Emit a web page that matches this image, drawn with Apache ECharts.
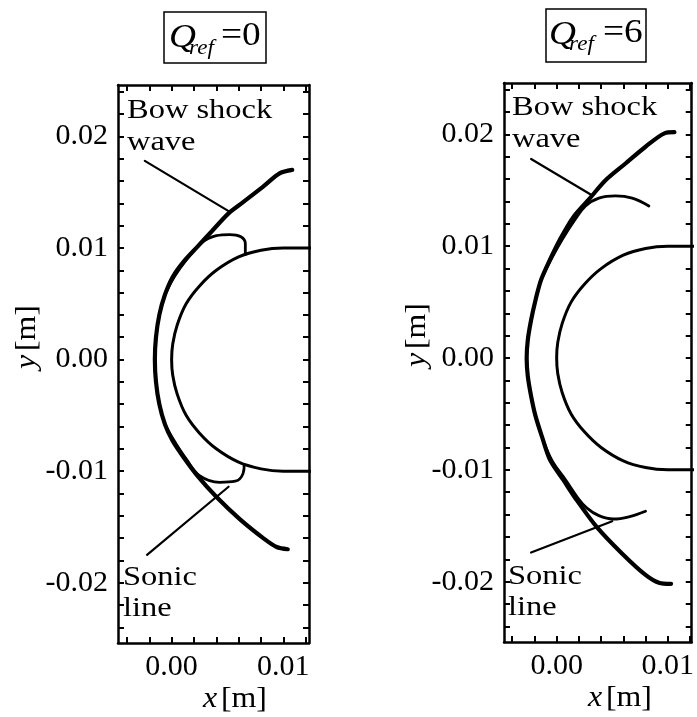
<!DOCTYPE html>
<html><head><meta charset="utf-8">
<script src="https://cdn.jsdelivr.net/npm/echarts@6/dist/echarts.min.js"></script>
<style>html,body{margin:0;padding:0;background:#fff}#c{width:697px;height:717px}</style>
</head><body><div id="c"></div>
<script>
// ---------- data ----------
const xTickValues = [-0.004,-0.002,0,0.002,0.004,0.006,0.008,0.010,0.012];
const xLabelValues = [0, 0.01];
const yTickValues = [-0.024,-0.022,-0.020,-0.018,-0.016,-0.014,-0.012,-0.010,-0.008,-0.006,-0.004,-0.002,0,0.002,0.004,0.006,0.008,0.010,0.012,0.014,0.016,0.018,0.020,0.022,0.024];
const yLabelValues = [-0.02,-0.01,0,0.01,0.02];

// body contour (same in both panels)
const bodyContour = [[0.0125,0.0100],[0.0100,0.0100],[0.0080,0.0098],[0.0060,0.0092],[0.0040,0.0080],[0.0025,0.0066],[0.0013,0.0050],[0.0005,0.0031],[0.0001,0.0014],[0.0000,0.0000],[0.0001,-0.0014],[0.0005,-0.0031],[0.0013,-0.0050],[0.0025,-0.0066],[0.0040,-0.0080],[0.0060,-0.0092],[0.0080,-0.0098],[0.0100,-0.0100],[0.0125,-0.0100]];

// Q_ref = 0
const shockQ0 = [[0.0108,0.0170],[0.0097,0.0167],[0.0082,0.0155],[0.0064,0.0141],[0.0051,0.0131],[0.0036,0.0115],[0.0023,0.0101],[0.0011,0.0088],[0.0001,0.0074],[-0.0006,0.0058],[-0.0011,0.0040],[-0.0014,0.0020],[-0.0015,0.0000],[-0.0014,-0.0020],[-0.0011,-0.0040],[-0.0006,-0.0058],[0.0001,-0.0073],[0.0011,-0.0088],[0.0023,-0.0104],[0.0040,-0.0123],[0.0061,-0.0143],[0.0082,-0.0160],[0.0094,-0.0168],[0.0104,-0.0170]];
const sonicUpperQ0 = [[-0.0004,0.0062],[0.0003,0.0075],[0.0013,0.0089],[0.0026,0.0104],[0.0040,0.0111],[0.0052,0.0112],[0.0062,0.0110],[0.0066,0.0104],[0.0066,0.0094]];
const sonicLowerQ0 = [[-0.0004,-0.0062],[0.0003,-0.0074],[0.0013,-0.0089],[0.0025,-0.0104],[0.0043,-0.0110],[0.0057,-0.0109],[0.0064,-0.0102],[0.0065,-0.0094]];
const pointerShockQ0 = [[-0.0024,0.0178],[0.0051,0.0133]];
const pointerSonicQ0 = [[-0.0022,-0.0175],[0.0051,-0.0114]];

// Q_ref = 6
const shockQ6 = [[0.0106,0.0202],[0.0097,0.0201],[0.0080,0.0189],[0.0062,0.0174],[0.0044,0.0159],[0.0030,0.0143],[0.0015,0.0126],[0.0003,0.0106],[-0.0006,0.0088],[-0.0014,0.0070],[-0.0019,0.0052],[-0.0023,0.0034],[-0.0026,0.0016],[-0.0027,0.0000],[-0.0026,-0.0016],[-0.0023,-0.0034],[-0.0019,-0.0052],[-0.0013,-0.0071],[-0.0006,-0.0091],[0.0006,-0.0109],[0.0018,-0.0127],[0.0036,-0.0151],[0.0059,-0.0175],[0.0080,-0.0194],[0.0092,-0.0201],[0.0103,-0.0202]];
const sonicUpperQ6 = [[-0.0012,0.0074],[-0.0004,0.0090],[0.0005,0.0106],[0.0016,0.0123],[0.0026,0.0136],[0.0038,0.0143],[0.0053,0.0145],[0.0068,0.0143],[0.0083,0.0136]];
const sonicLowerQ6 = [[-0.0012,-0.0074],[-0.0004,-0.0092],[0.0008,-0.0109],[0.0019,-0.0125],[0.0027,-0.0134],[0.0038,-0.0141],[0.0051,-0.0144],[0.0065,-0.0142],[0.0080,-0.0137]];
const pointerShockQ6 = [[-0.0023,0.0178],[0.0031,0.0146]];
const pointerSonicQ6 = [[-0.0023,-0.0174],[0.0050,-0.0146]];

// ---------- chart ----------
const FF = 'Liberation Serif';
const chart = echarts.init(document.getElementById('c'), null, {renderer:'canvas'});

function xAx(grid, pos, min, max, labels){
  return {gridIndex:grid, type:'value', position:pos, min:min, max:max,
    axisLine:{show:true, onZero:false, lineStyle:{color:'#000', width:2.5}},
    axisTick:{show:true, inside:true, length:6, customValues:xTickValues, lineStyle:{color:'#000', width:2}},
    axisLabel:{show:labels, customValues:xLabelValues, formatter:v=>v.toFixed(2), fontFamily:FF, fontSize:30, color:'#000', margin:9},
    splitLine:{show:false}};
}
function yAx(grid, pos, labels){
  return {gridIndex:grid, type:'value', position:pos, min:-0.0254, max:0.0246,
    axisLine:{show:true, onZero:false, lineStyle:{color:'#000', width:2.5}},
    axisTick:{show:true, inside:true, length:6, customValues:yTickValues, lineStyle:{color:'#000', width:2}},
    axisLabel:{show:labels, customValues:yLabelValues, formatter:v=>v.toFixed(2), fontFamily:FF, fontSize:30, color:'#000', margin:10},
    splitLine:{show:false}};
}
function ln(xi, yi, data, w, smooth){
  return {type:'line', xAxisIndex:xi, yAxisIndex:yi, data:data, symbol:'none', showSymbol:false,
    smooth:smooth, clip:true, lineStyle:{color:'#000', width:w, cap:'round', join:'round'}, silent:true, z:3};
}
function txt(x, y, s, size, italic, sx){
  return {type:'text', x:x, y:y, scaleX:sx||1, style:{text:s, fontFamily:FF, fontSize:size, fontStyle:italic?'italic':'normal', fill:'#000', align:'left', verticalAlign:'middle'}};
}
function axName(x, y, v, rot){
  return {type:'text', x:x, y:y, rotation:rot, scaleX:1.1, style:{rich:{i:{fontStyle:'italic', fontFamily:FF, fontSize:29}, n:{fontFamily:FF, fontSize:29}}, text:'{i|'+v+'} {n|[m]}', fill:'#000', align:'center', verticalAlign:'middle'}};
}

const option = {
  animation:false,
  backgroundColor:'#fff',
  grid:[
    {left:118, top:85, width:191, height:558},
    {left:504, top:83, width:189, height:559}
  ],
  xAxis:[
    xAx(0,'bottom',-0.0048,0.0123,true),
    xAx(0,'top',-0.0048,0.0123,false),
    xAx(1,'bottom',-0.00474,0.01216,true),
    xAx(1,'top',-0.00474,0.01216,false)
  ],
  yAxis:[
    yAx(0,'left',true),
    yAx(0,'right',false),
    yAx(1,'left',true),
    yAx(1,'right',false)
  ],
  series:[
    ln(0,0,bodyContour,3,0.3),
    ln(0,0,shockQ0,4.2,0.3),
    ln(0,0,sonicUpperQ0,2.8,0.4),
    ln(0,0,sonicLowerQ0,2.8,0.4),
    ln(0,0,pointerShockQ0,2.2,false),
    ln(0,0,pointerSonicQ0,2.2,false),
    ln(2,2,bodyContour,3,0.3),
    ln(2,2,shockQ6,4.2,0.3),
    ln(2,2,sonicUpperQ6,2.8,0.4),
    ln(2,2,sonicLowerQ6,2.8,0.4),
    ln(2,2,pointerShockQ6,2.2,false),
    ln(2,2,pointerSonicQ6,2.2,false)
  ],
  graphic:[
    // title boxes
    {type:'rect', shape:{x:164,y:12,width:102,height:51}, style:{fill:'none', stroke:'#000', lineWidth:1.5}},
    txt(169,38,'Q',34,true,1.1),
    txt(189,48,'ref',21,true,1.1),
    txt(221,36,'=0',34,false,1.1),
    {type:'rect', shape:{x:546,y:9,width:100,height:53}, style:{fill:'none', stroke:'#000', lineWidth:1.5}},
    txt(549,35,'Q',34,true,1.1),
    txt(569,44,'ref',21,true,1.1),
    txt(603,33,'=6',34,false,1.1),
    // annotations
    txt(127,111,'Bow shock',28,false,1.16),
    txt(127,143,'wave',28,false,1.16),
    txt(123,578,'Sonic',28,false,1.16),
    txt(123,609,'line',28,false,1.16),
    txt(512,108,'Bow shock',28,false,1.16),
    txt(512,140,'wave',28,false,1.16),
    txt(508,577,'Sonic',28,false,1.16),
    txt(508,608,'line',28,false,1.16),
    // axis names
    axName(27,337,'y',Math.PI/2),
    axName(417,335,'y',Math.PI/2),
    axName(235,699,'x',0),
    axName(620,698,'x',0)
  ]
};
chart.setOption(option);
</script>
</body></html>
